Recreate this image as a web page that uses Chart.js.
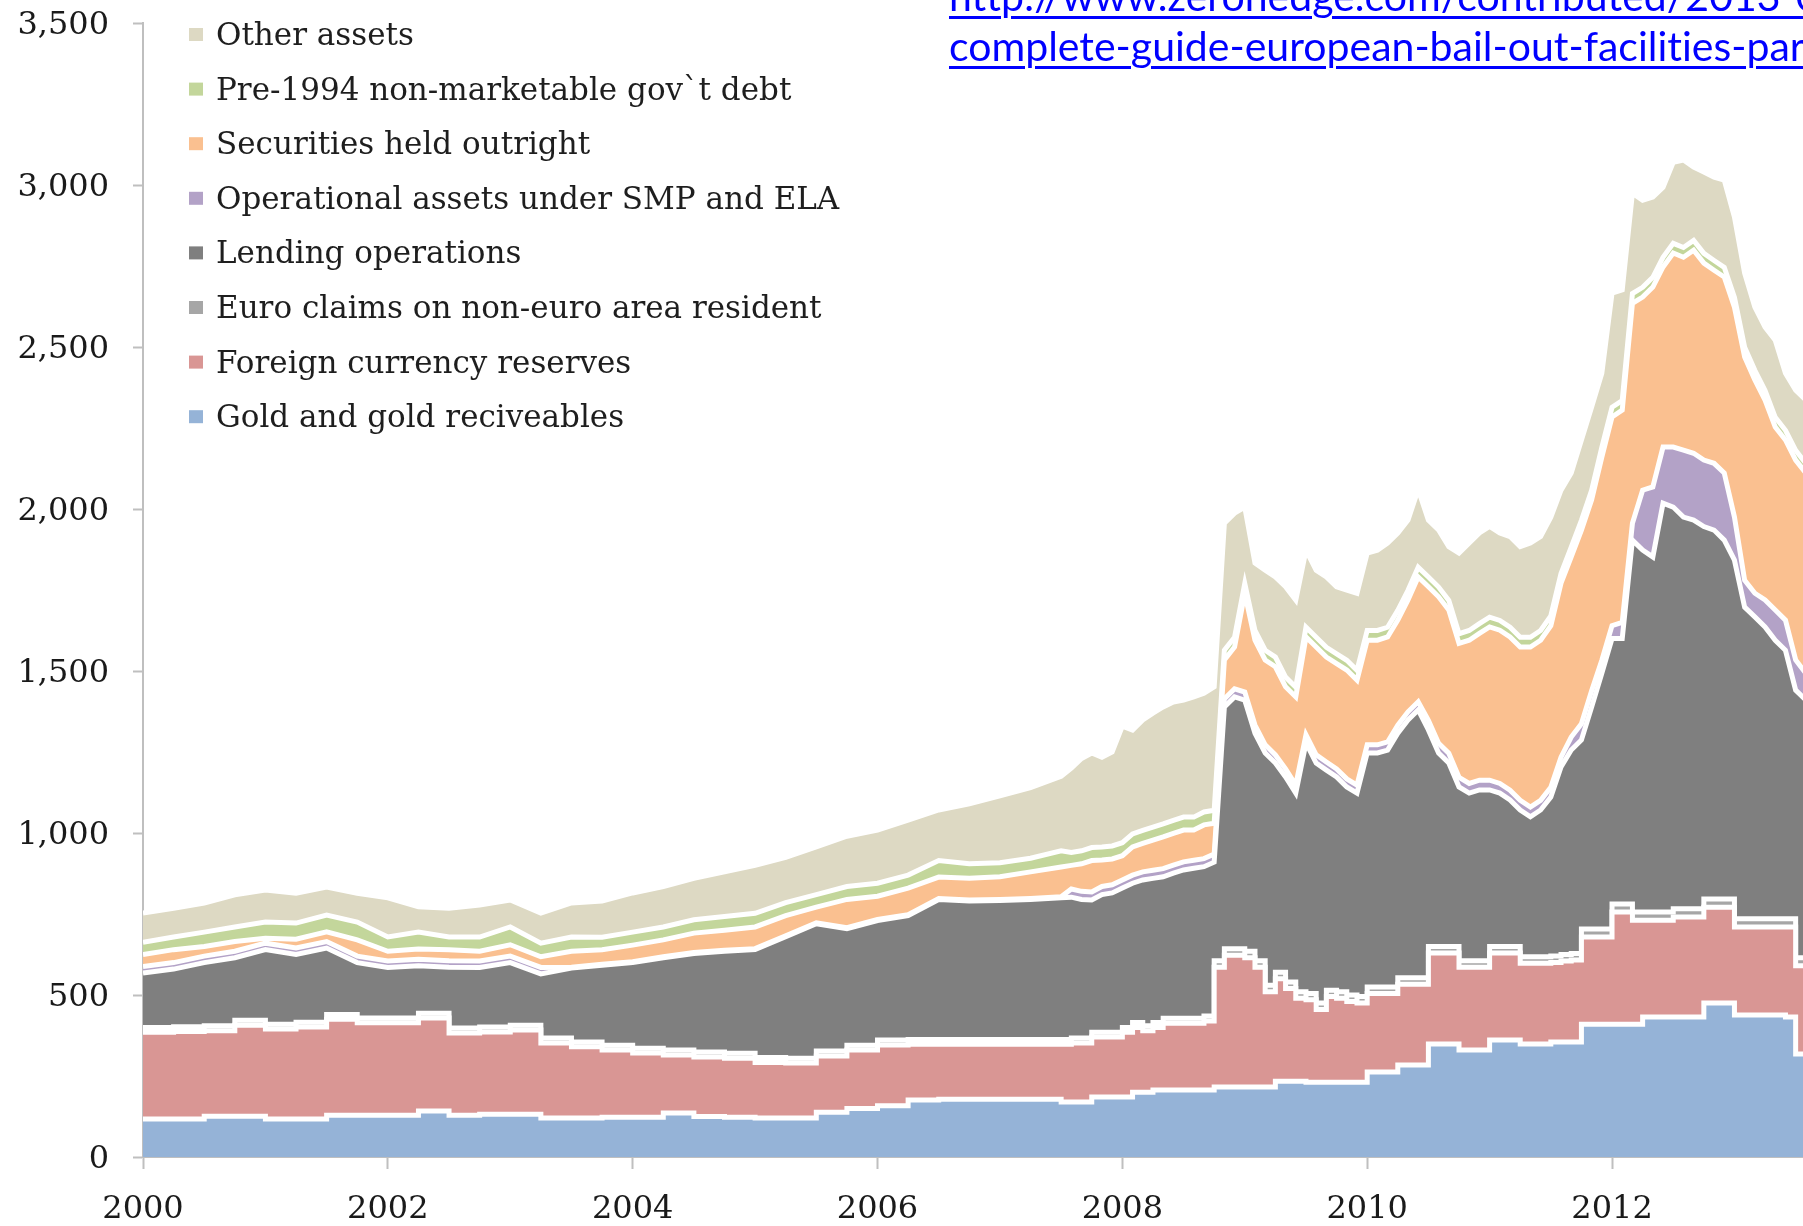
<!DOCTYPE html>
<html>
<head>
<meta charset="utf-8">
<title>Eurosystem assets</title>
<script src="https://cdn.jsdelivr.net/npm/chart.js@4.4.1/dist/chart.umd.min.js"></script>
<style>
    html, body { margin: 0; padding: 0; background: #ffffff; overflow: hidden; }
    #wrap { position: relative; width: 1803px; height: 1226px; overflow: hidden; }
    #chart { position: absolute; left: 0; top: 0; }
    #source {
        position: absolute; left: 949px; top: -29px;
        font-family: Lato, "Open Sans", sans-serif; font-size: 41px; line-height: 50px;
        font-variant-ligatures: none;
        white-space: nowrap;
    }
    #source a {
        color: #0000ff; text-decoration: underline;
        text-decoration-thickness: 3px; text-underline-offset: 5px;
    }
</style>
</head>
<body>
<div id="wrap">
    <canvas id="chart" width="1803" height="1226"></canvas>
    <div id="source">
        <a>http://www.zerohedge.com/contributed/2013-04-08/</a><br>
        <a>complete-guide-european-bail-out-facilities-part-1</a>
    </div>
</div>
<script>
// Dates: quarterly up to mid 2007, monthly after that
const dates = [
    '2000-01', '2000-04', '2000-07', '2000-10', '2001-01', '2001-04', '2001-07', '2001-10',
    '2002-01', '2002-04', '2002-07', '2002-10', '2003-01', '2003-04', '2003-07', '2003-10',
    '2004-01', '2004-04', '2004-07', '2004-10', '2005-01', '2005-04', '2005-07', '2005-10',
    '2006-01', '2006-04', '2006-07', '2006-10', '2007-01', '2007-04', '2007-07',
    '2007-08', '2007-09', '2007-10', '2007-11', '2007-12',
    '2008-01', '2008-02', '2008-03', '2008-04', '2008-05', '2008-06', '2008-07', '2008-08', '2008-09', '2008-10', '2008-11', '2008-12',
    '2009-01', '2009-02', '2009-03', '2009-04', '2009-05', '2009-06', '2009-07', '2009-08', '2009-09', '2009-10', '2009-11', '2009-12',
    '2010-01', '2010-02', '2010-03', '2010-04', '2010-05', '2010-06', '2010-07', '2010-08', '2010-09', '2010-10', '2010-11', '2010-12',
    '2011-01', '2011-02', '2011-03', '2011-04', '2011-05', '2011-06', '2011-07', '2011-08', '2011-09', '2011-10', '2011-11', '2011-12',
    '2012-01', '2012-02', '2012-03', '2012-04', '2012-05', '2012-06', '2012-07', '2012-08', '2012-09', '2012-10', '2012-11', '2012-12',
    '2013-01', '2013-02', '2013-03', '2013-04', '2013-05', '2013-06', '2013-07', '2013-08'
];

// EUR bn, bottom of the stack first
const gold = [
    117, 117, 126, 126, 117, 117, 129, 129, 129, 142, 129, 132, 132, 120, 120, 123,
    123, 136, 125, 123, 120, 120, 138, 150, 158, 176, 178, 178, 178, 178, 170,
    170, 170, 185, 185, 185,
    185, 200, 200, 207, 207, 207, 207, 207, 207, 216, 216, 216,
    216, 216, 216, 234, 234, 234, 231, 231, 231, 231, 231, 231,
    262, 262, 262, 284, 284, 284, 349, 349, 349, 330, 330, 330,
    361, 361, 361, 349, 349, 349, 355, 355, 355, 410, 410, 410,
    410, 410, 410, 432, 432, 432, 432, 432, 432, 475, 475, 475,
    438, 438, 438, 438, 438, 432, 318, 318
];
const fxReserves = [
    268, 270, 264, 281, 278, 284, 296, 285, 285, 287, 254, 254, 260, 232, 220, 207,
    198, 179, 184, 182, 172, 170, 174, 180, 188, 172, 170, 170, 170, 170, 178,
    182, 182, 185, 185, 185,
    200, 200, 190, 193, 206, 206, 206, 206, 213, 370, 407, 407,
    399, 370, 294, 316, 286, 256, 254, 224, 264, 259, 249, 244,
    243, 243, 243, 249, 249, 249, 281, 281, 281, 256, 256, 256,
    269, 269, 269, 249, 249, 249, 245, 250, 253, 269, 269, 269,
    346, 346, 321, 299, 299, 299, 309, 309, 309, 296, 296, 296,
    272, 272, 272, 272, 272, 278, 272, 272
];
const euroClaims = [
    15, 15, 15, 15, 15, 15, 15, 15, 15, 15, 15, 15, 15, 15, 15, 15,
    15, 15, 15, 15, 15, 15, 15, 15, 15, 15, 15, 15, 15, 15, 15,
    15, 15, 15, 15, 15,
    15, 15, 15, 15, 15, 15, 15, 15, 15, 20, 20, 20,
    20, 20, 20, 20, 20, 20, 20, 20, 20, 20, 20, 20,
    20, 20, 20, 20, 20, 20, 20, 20, 20, 20, 20, 20,
    20, 20, 20, 20, 20, 20, 20, 20, 20, 25, 25, 25,
    25, 25, 25, 25, 25, 25, 25, 25, 25, 25, 25, 25,
    25, 25, 25, 25, 25, 25, 25, 25
];
const lending = [
    168, 178, 195, 193, 230, 209, 205, 171, 156, 146, 188, 184, 193, 198, 228, 247,
    264, 285, 304, 315, 333, 375, 393, 360, 369, 382, 432, 427, 429, 432, 437,
    435, 428, 408, 425, 430,
    430, 430, 450, 445, 437, 448, 458, 463, 461, 304, 746, 777,
    775, 702, 717, 646, 633, 613, 773, 741, 679, 663, 642, 628,
    722, 722, 731, 755, 796, 827, 668, 597, 566, 536, 517, 527,
    483, 473, 452, 453, 432, 453, 491, 579, 628, 583, 685, 789,
    819, 819, 1148, 1117, 1096, 1262, 1240, 1209, 1200, 1150, 1139, 1108,
    1107, 962, 932, 901, 860, 829, 826, 795
];
const smpEla = [
    20, 20, 20, 20, 20, 20, 20, 20, 20, 20, 20, 20, 20, 20, 3, 3,
    3, 3, 3, 3, 3, 3, 3, 3, 3, 3, 3, 3, 3, 3, 3,
    25, 25, 25, 25, 25,
    25, 25, 25, 25, 25, 25, 25, 25, 25, 25, 25, 25,
    25, 25, 25, 25, 25, 25, 25, 25, 25, 25, 25, 25,
    25, 25, 25, 25, 25, 25, 30, 30, 30, 30, 30, 30,
    30, 30, 30, 30, 30, 30, 30, 30, 40, 50, 50, 40,
    40, 50, 52, 185, 216, 173, 185, 207, 206, 205, 206, 207,
    133, 83, 73, 83, 93, 93, 93, 83
];
const securities = [
    37, 40, 30, 30, 15, 27, 30, 50, 30, 32, 34, 30, 35, 33, 49, 45,
    51, 52, 60, 62, 67, 62, 48, 87, 72, 82, 66, 67, 70, 82, 92,
    73, 85, 97, 82, 80,
    75, 87, 88, 93, 98, 98, 98, 93, 104, 95, 120, 129,
    305, 262, 262, 272, 253, 272, 302, 333, 324, 325, 336, 324,
    323, 323, 324, 324, 345, 385, 412, 452, 442, 413, 442, 453,
    473, 473, 473, 473, 494, 494, 499, 537, 556, 598, 589, 627,
    644, 655, 679, 596, 617, 556, 599, 595, 627, 608, 596, 605,
    648, 689, 658, 617, 565, 556, 617, 618
];
const pre1994Debt = [
    38, 39, 44, 45, 50, 50, 52, 55, 44, 52, 39, 44, 55, 42, 44, 38,
    40, 40, 41, 42, 42, 40, 39, 40, 40, 40, 51, 45, 43, 42, 50,
    40, 40, 40, 40, 40,
    40, 40, 40, 40, 40, 40, 40, 40, 40, 40, 30, 30,
    30, 30, 30, 30, 30, 30, 30, 30, 30, 30, 30, 30,
    30, 30, 30, 30, 30, 30, 30, 30, 30, 30, 30, 30,
    30, 30, 30, 30, 30, 30, 30, 30, 30, 30, 30, 30,
    30, 30, 30, 30, 30, 30, 30, 30, 30, 30, 30, 30,
    30, 30, 30, 30, 30, 30, 30, 30
];
const otherAssets = [
    90, 89, 90, 99, 99, 92, 86, 89, 121, 78, 89, 99, 83, 93, 105, 112,
    121, 125, 128, 138, 148, 140, 147, 155, 164, 170, 156, 185, 207, 218, 230,
    260, 285, 292, 277, 290,
    360, 321, 341, 352, 361, 365, 361, 371, 366, 381, 392, 383,
    236, 208, 247, 247, 279, 269, 238, 207, 217, 207, 217, 238,
    239, 248, 260, 239, 217, 240, 176, 176, 166, 249, 270, 280,
    280, 270, 280, 280, 291, 290, 305, 257, 229, 248, 257, 229,
    352, 341, 310, 269, 248, 216, 250, 270, 226, 251, 257, 269,
    248, 229, 195, 195, 238, 176, 186, 195
];

// Axis ticks
const xTickYears = [2000, 2002, 2004, 2006, 2008, 2010, 2012];
const yTickValues = [0, 500, 1000, 1500, 2000, 2500, 3000, 3500];

document.addEventListener("DOMContentLoaded", () => {
    const serif = '"DejaVu Serif", "Liberation Serif", serif';

    // Convert 'YYYY-MM' into a decimal year for the linear time axis
    function toYear(d) {
        return Number(d.slice(0, 4)) + (Number(d.slice(5, 7)) - 1) / 12;
    }

    const series = [
        { label: 'Gold and gold reciveables', data: gold, color: '#95B3D7', stepped: true },
        { label: 'Foreign currency reserves', data: fxReserves, color: '#D99694', stepped: true },
        { label: 'Euro claims on non-euro area resident', data: euroClaims, color: '#A6A6A6', stepped: true },
        { label: 'Lending operations', data: lending, color: '#7F7F7F' },
        { label: 'Operational assets under SMP and ELA', data: smpEla, color: '#B3A2C7' },
        { label: 'Securities held outright', data: securities, color: '#FAC090' },
        { label: 'Pre-1994 non-marketable gov`t debt', data: pre1994Debt, color: '#C3D69B' },
        { label: 'Other assets', data: otherAssets, color: '#DDD9C3' }
    ];

    // Legend drawn inside the plot, top series first
    const insideLegend = {
        id: 'insideLegend',
        afterDraw(chart) {
            const ctx = chart.ctx;
            const left = chart.chartArea.left;
            const top = chart.chartArea.top;
            const items = chart.data.datasets.slice().reverse();
            ctx.save();
            ctx.font = '31px ' + serif;
            ctx.textBaseline = 'alphabetic';
            ctx.textAlign = 'left';
            items.forEach((ds, i) => {
                const baseY = top + 22 + i * 54.6;
                ctx.fillStyle = ds.backgroundColor;
                ctx.fillRect(left + 46, baseY - 17, 14, 13);
                ctx.fillStyle = '#1e1e1e';
                ctx.fillText(ds.label, left + 73, baseY);
            });
            ctx.restore();
        }
    };

    const ctx = document.getElementById('chart').getContext('2d');

    new Chart(ctx, {
        type: 'line',
        data: {
            labels: dates.map(toYear),
            datasets: series.map((s, i) => ({
                label: s.label,
                data: s.data,
                backgroundColor: s.color,
                borderColor: '#ffffff',
                borderWidth: 5,
                pointRadius: 0,
                tension: 0,
                stepped: s.stepped || false,
                fill: i === 0 ? 'origin' : '-1'
            }))
        },
        options: {
            responsive: false,
            animation: false,
            events: [],
            layout: {
                padding: { top: 23, right: 0, bottom: 0, left: 0 }
            },
            plugins: {
                legend: { display: false },
                tooltip: { enabled: false }
            },
            scales: {
                x: {
                    type: 'linear',
                    min: 2000,
                    max: 2013.56,
                    afterBuildTicks: (scale) => {
                        scale.ticks = xTickYears.map(v => ({ value: v }));
                    },
                    afterFit: (scale) => {
                        scale.height = 69;
                    },
                    ticks: {
                        callback: (v) => String(v),
                        font: { family: serif, size: 32 },
                        color: '#1a1a1a',
                        padding: 21,
                        maxRotation: 0,
                        autoSkip: false
                    },
                    grid: {
                        drawOnChartArea: false,
                        drawTicks: true,
                        tickLength: 12,
                        tickColor: '#BFBFBF',
                        tickWidth: 2
                    },
                    border: { display: true, color: '#BFBFBF', width: 2 }
                },
                y: {
                    stacked: true,
                    min: 0,
                    max: 3500,
                    afterBuildTicks: (scale) => {
                        scale.ticks = yTickValues.map(v => ({ value: v }));
                    },
                    afterFit: (scale) => {
                        // fixed axis width, no extra room above the top label
                        scale.width = 143;
                        scale.paddingTop = 0;
                        scale.paddingBottom = 0;
                    },
                    ticks: {
                        callback: (v) => v.toLocaleString('en-US'),
                        font: { family: serif, size: 32 },
                        color: '#1a1a1a',
                        padding: 24,
                        labelOffset: 3
                    },
                    grid: {
                        drawOnChartArea: false,
                        drawTicks: true,
                        tickLength: 10,
                        tickColor: '#BFBFBF',
                        tickWidth: 2
                    },
                    border: { display: true, color: '#BFBFBF', width: 2 }
                }
            }
        },
        plugins: [insideLegend]
    });
});
</script>
</body>
</html>
